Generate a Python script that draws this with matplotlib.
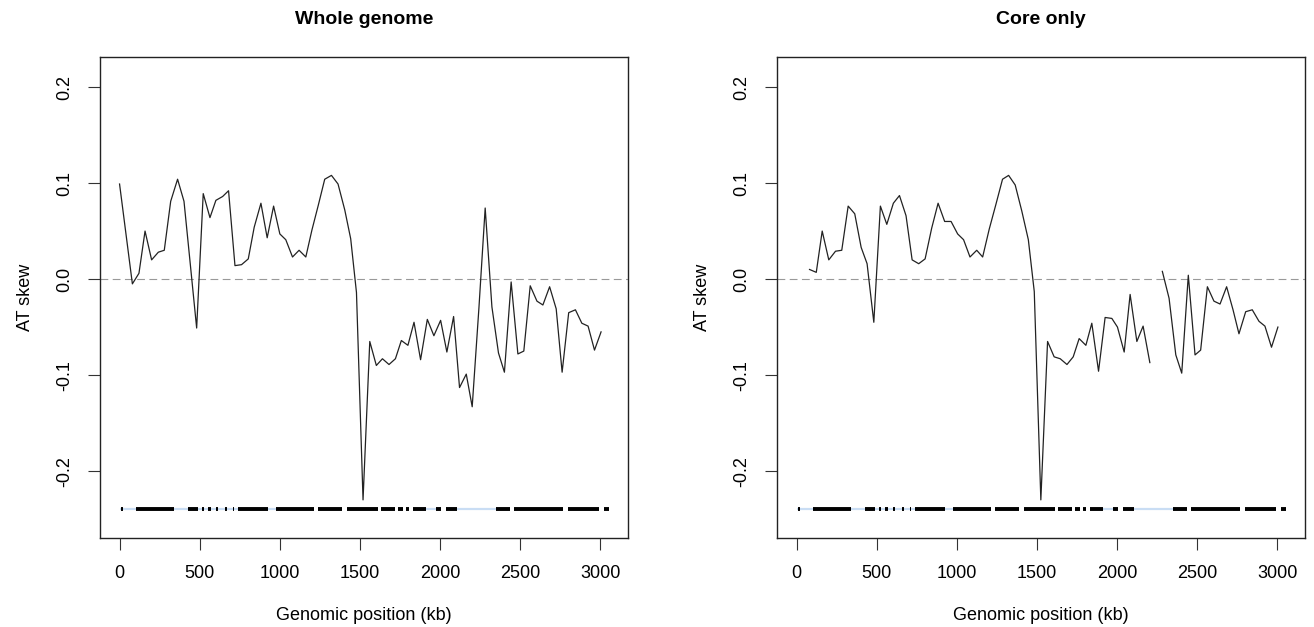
import numpy as np
import matplotlib
matplotlib.use("Agg")
import matplotlib.pyplot as plt

# ---------------- data ----------------
whole_kb = [0, 80, 121, 159, 200, 242, 279, 319, 362, 402, 441, 481, 522, 564, 601,
            643, 680, 720, 761, 803, 840, 882, 921, 961, 1000, 1037, 1079, 1120, 1162,
            1200, 1240, 1280, 1322, 1363, 1405, 1442, 1478, 1519, 1561, 1602, 1640, 1681,
            1721, 1758, 1799, 1837, 1878, 1920, 1961, 2003, 2042, 2084, 2121, 2163, 2200,
            2242, 2281, 2323, 2364, 2401, 2443, 2485, 2522, 2562, 2604, 2641, 2683, 2724,
            2761, 2802, 2844, 2884, 2923, 2963, 3004]
whole_skew = [0.099, -0.005, 0.006, 0.050, 0.020, 0.028, 0.030, 0.081, 0.104, 0.081,
              0.016, -0.051, 0.089, 0.064, 0.082, 0.086, 0.092, 0.014, 0.015, 0.021,
              0.054, 0.079, 0.043, 0.076, 0.047, 0.041, 0.023, 0.030, 0.023, 0.051,
              0.077, 0.104, 0.108, 0.099, 0.072, 0.042, -0.014, -0.230, -0.065, -0.090,
              -0.083, -0.089, -0.083, -0.064, -0.069, -0.045, -0.084, -0.042, -0.059,
              -0.043, -0.076, -0.039, -0.113, -0.099, -0.133, -0.030, 0.074, -0.029,
              -0.077, -0.097, -0.003, -0.078, -0.075, -0.007, -0.023, -0.027, -0.008,
              -0.031, -0.097, -0.035, -0.032, -0.046, -0.049, -0.074, -0.055]

core_kb = [81, 123, 160, 201, 243, 282, 322, 363, 403, 440, 482, 523, 563, 604, 642,
           683, 721, 762, 802, 843, 883, 924, 964, 1005, 1042, 1082, 1124, 1161, 1202,
           1244, 1285, 1323, 1364, 1405, 1446, 1483, 1524, 1566, 1607, 1645, 1687, 1726,
           1763, 1805, 1842, 1884, 1925, 1967, 2002, 2044, 2081, 2123, 2162, 2204, 2243,
           2282, 2324, 2366, 2403, 2444, 2486, 2521, 2563, 2604, 2642, 2683, 2723, 2760,
           2802, 2843, 2885, 2922, 2963, 3003]
core_skew = [0.010, 0.007, 0.050, 0.020, 0.029, 0.030, 0.076, 0.068, 0.033, 0.016,
             -0.045, 0.076, 0.057, 0.079, 0.087, 0.066, 0.020, 0.016, 0.021, 0.053,
             0.079, 0.060, 0.060, 0.047, 0.041, 0.023, 0.030, 0.023, 0.052, 0.078,
             0.104, 0.108, 0.098, 0.071, 0.041, -0.013, -0.230, -0.065, -0.081, -0.083,
             -0.089, -0.081, -0.062, -0.069, -0.046, -0.096, -0.040, -0.041, -0.050,
             -0.076, -0.016, -0.065, -0.049, -0.087, np.nan, 0.008, -0.020, -0.079,
             -0.098, 0.004, -0.079, -0.074, -0.008, -0.023, -0.026, -0.008, -0.032,
             -0.057, -0.034, -0.032, -0.044, -0.049, -0.071, -0.050]

# core genome blocks (black) and accessory regions (light blue), kb
core_starts = [10, 103, 429, 512, 553, 601, 657, 705, 740, 979, 1239, 1419, 1634, 1737,
               1789, 1831, 1976, 2039, 2350, 2458, 2796, 3020]
core_ends = [22, 341, 491, 526, 568, 615, 672, 713, 927, 1212, 1388, 1615, 1717, 1768,
             1806, 1914, 2007, 2105, 2433, 2765, 2994, 3052]
acc_starts = [0, 341, 491, 927, 1914, 2105]
acc_ends = [103, 429, 740, 979, 1976, 2350]
block_level = -0.24

titles = ["Whole genome", "Core only"]
xticks = [0, 500, 1000, 1500, 2000, 2500, 3000]
yticks = [-0.2, -0.1, 0.0, 0.1, 0.2]
ytick_labels = ["-0.2", "-0.1", "0.0", "0.1", "0.2"]

# ---------------- figure ----------------
plt.rcParams['font.family'] = ['Liberation Sans', 'DejaVu Sans']
W, H = 1314, 627
fig = plt.figure(figsize=(W / 100, H / 100), dpi=100)

def px_axes(l, r, t, b):
    return fig.add_axes([l / W, 1 - b / H, (r - l) / W, (b - t) / H])

axes = [px_axes(100, 628, 57, 538), px_axes(777, 1305, 57, 538)]
series = [(whole_kb, whole_skew), (core_kb, core_skew)]

for ax, title, (xs, ys) in zip(axes, titles, series):
    ax.set_xlim(-122, 3172)
    ax.set_ylim(-0.2697, 0.2313)
    ax.axhline(0, color='#999999', lw=0.8, linestyle=(0, (7, 4)), zorder=1)
    ax.hlines([block_level] * len(acc_starts), acc_starts, acc_ends,
              color='#c9ddf4', lw=1.6, capstyle='butt', zorder=2)
    ax.hlines([block_level] * len(core_starts), core_starts, core_ends,
              color='black', lw=2.8, capstyle='butt', zorder=3)
    ax.plot(xs, ys, color='#222222', lw=0.9, zorder=4)

    ax.set_xticks(xticks)
    ax.set_xticklabels([str(v) for v in xticks])
    ax.set_yticks(yticks)
    ax.set_yticklabels(ytick_labels, rotation=90, va='center')
    ax.tick_params(direction='out', length=8.5, width=0.8, labelsize=13,
                   pad=11, color='#333333')
    for s in ax.spines.values():
        s.set_linewidth(1.0)
        s.set_color('#222222')
    ax.set_xlabel("Genomic position (kb)", fontsize=13, labelpad=18)
    ax.set_ylabel("AT skew", fontsize=13, labelpad=16)
    ax.set_title(title, fontsize=14, fontweight='bold', pad=24)

fig.savefig("out.png", dpi=100)
